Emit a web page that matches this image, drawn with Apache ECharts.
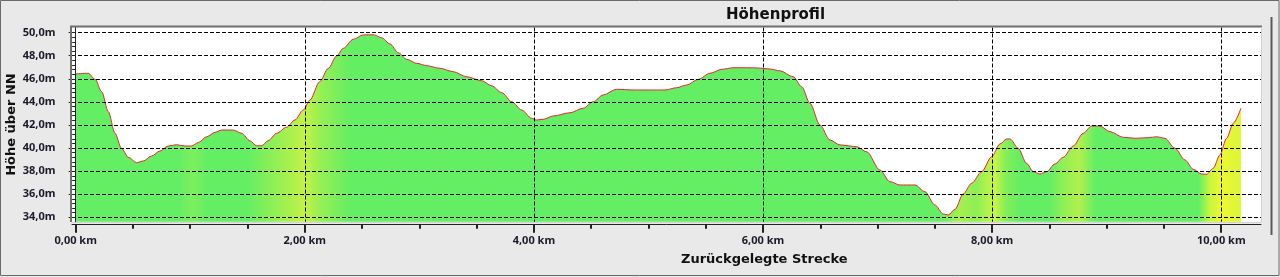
<!DOCTYPE html>
<html><head><meta charset="utf-8">
<script src="https://cdn.jsdelivr.net/npm/echarts@6/dist/echarts.min.js"></script>
<style>html,body{margin:0;padding:0;background:#e9e9e9}#c{width:1280px;height:277px}</style>
</head><body><div id="c"></div>
<script>
// ---- data ----
const distanceKm = [0.00,0.11,0.17,0.227,0.285,0.343,0.40,0.46,0.532,0.59,0.663,0.736,0.81,0.88,0.954,1.01,1.07,1.143,1.216,1.274,1.376,1.45,1.52,1.58,1.624,1.68,1.755,1.84,1.914,1.987,2.045,2.13,2.205,2.278,2.336,2.423,2.51,2.598,2.671,2.744,2.816,2.89,2.977,3.064,3.18,3.296,3.413,3.544,3.63,3.72,3.806,3.893,3.98,4.024,4.08,4.169,4.315,4.43,4.518,4.605,4.72,4.88,5.013,5.144,5.246,5.333,5.435,5.537,5.64,5.74,5.857,5.958,6.06,6.148,6.264,6.337,6.41,6.497,6.584,6.672,6.817,6.905,7.02,7.108,7.195,7.326,7.414,7.50,7.574,7.617,7.675,7.748,7.821,7.908,7.996,8.068,8.127,8.156,8.228,8.30,8.36,8.417,8.476,8.548,8.62,8.708,8.795,8.868,8.94,9.03,9.145,9.247,9.363,9.436,9.508,9.596,9.683,9.756,9.829,9.873,9.93,9.988,10.047,10.105,10.172];
const elevationM = [46.42,46.48,45.96,44.88,43.15,41.28,39.98,39.20,38.73,38.88,39.31,39.75,40.18,40.29,40.18,40.18,40.47,40.98,41.36,41.56,41.56,41.28,40.64,40.20,40.20,40.64,41.28,41.80,42.43,43.30,44.16,45.75,46.90,47.98,48.64,49.42,49.80,49.82,49.56,49.02,48.26,47.69,47.34,47.14,46.91,46.62,46.18,45.84,45.40,44.80,44.02,43.30,42.58,42.43,42.49,42.78,43.06,43.45,44.02,44.60,45.09,45.03,45.03,45.03,45.23,45.46,45.96,46.48,46.82,46.96,46.96,46.94,46.85,46.69,46.18,45.32,43.88,42.00,40.70,40.27,40.12,39.68,38.10,37.09,36.80,36.80,36.22,35.07,34.29,34.20,34.69,36.02,36.95,37.95,39.25,40.35,40.79,40.79,39.98,38.68,37.95,37.75,37.95,38.62,39.20,40.18,41.28,41.91,41.91,41.42,40.93,40.85,40.90,40.98,40.85,39.98,38.97,38.16,37.75,37.73,38.25,39.40,40.85,42.15,43.45];
const xTickValues = [0, 2, 4, 6, 8, 10];
const yTickValues = [34, 36, 38, 40, 42, 44, 46, 48, 50];
const titleText = 'Höhenprofil';
const xAxisName = 'Zurückgelegte Strecke';
const yAxisName = 'Höhe über NN';

// ---- minor tick positions (subdivisions of major ticks) ----
function minorBetween(majors, parts) {
  const out = [];
  for (let i = 0; i < majors.length - 1; i++) {
    const step = (majors[i + 1] - majors[i]) / parts;
    for (let k = 1; k < parts; k++) out.push(+(majors[i] + k * step).toFixed(4));
  }
  return out;
}
const xMinor = minorBetween(xTickValues, 4);
const yMinor = minorBetween(yTickValues, 5);

const seriesData = distanceKm.map((d, i) => [d, elevationM[i]]);
const lastKm = distanceKm[distanceKm.length - 1];

const G = '#64ee64';
const fillStopsKm = [
  [0, G], [0.9, G], [1.02, '#7cf05c'], [1.14, G], [1.5, G], [1.78, '#98f052'], [2.0, '#c2f248'],
  [2.15, '#92f054'], [2.4, G], [7.55, G], [7.72, '#a6f04c'], [7.86, '#8cef55'], [8.02, '#caf545'],
  [8.12, '#82ef58'], [8.25, G], [8.5, G], [8.63, '#92f054'], [8.76, '#b2f04c'], [8.9, G],
  [9.8, G], [9.9, '#c8f540'], [10.0, '#ecf830'], [lastKm, '#dcf53a']
];
const colorStops = fillStopsKm.map(([k, c]) => ({ offset: Math.min(1, k / lastKm), color: c }));

const fontMain = 'DejaVu Sans';
const fontLab = 'Noto Sans';

const chart = echarts.init(document.getElementById('c'), null, { renderer: 'canvas' });
chart.setOption({
  backgroundColor: '#e9e9e9',
  animation: false,
  title: [
    { text: titleText, left: 721, top: 3, textStyle: { fontFamily: fontMain, fontWeight: 'bold', fontSize: 15, color: '#111' } },
    { text: xAxisName, left: 676, top: 248, textStyle: { fontFamily: fontMain, fontWeight: 'bold', fontSize: 13, color: '#111' } }
  ],
  grid: { left: 72, top: 27.5, right: 19, bottom: 55.3, show: true, backgroundColor: '#ffffff', borderWidth: 0,
    containLabel: false, outerBoundsMode: 'none' },
  xAxis: [
    {
      type: 'value', min: -0.032, max: 10.347, offset: 3, z: 5,
      axisLine: { show: true, lineStyle: { color: '#222', width: 1 } },
      axisTick: { show: true, length: 8, customValues: xTickValues, lineStyle: { color: '#222', width: 2 } },
      axisLabel: { customValues: xTickValues, margin: 11, fontFamily: fontLab, fontWeight: 'bold', fontSize: 11, color: '#1a1a2a',
        formatter: v => v.toFixed(2).replace('.', ',') + ' km' },
      splitLine: { show: true, lineStyle: { color: '#000', type: [4, 2], width: 1 } }
    },
    {
      type: 'value', min: -0.032, max: 10.347, offset: 3, position: 'bottom', z: 5,
      axisLine: { show: false },
      axisTick: { show: true, length: 4, customValues: xMinor, lineStyle: { color: '#222', width: 2 } },
      axisLabel: { show: false }, splitLine: { show: false }
    }
  ],
  yAxis: [
    {
      type: 'value', min: 33.619, max: 50.447, offset: 3.5, z: 5,
      name: yAxisName, nameLocation: 'middle', nameGap: 50, nameRotate: 90, nameMoveOverlap: false,
      nameTextStyle: { fontFamily: fontMain, fontWeight: 'bold', fontSize: 13, color: '#111' },
      axisLine: { show: true, lineStyle: { color: '#222', width: 1 } },
      axisTick: { show: true, length: 7, customValues: yTickValues, lineStyle: { color: '#222', width: 1 } },
      axisLabel: { customValues: yTickValues, margin: 13, fontFamily: fontLab, fontWeight: 'bold', fontSize: 11, color: '#1a1a2a',
        formatter: v => v.toFixed(1).replace('.', ',') + 'm' },
      splitLine: { show: true, lineStyle: { color: '#000', type: [4, 2], width: 1 } }
    },
    {
      type: 'value', min: 33.619, max: 50.447, offset: 3.5, position: 'left', z: 5,
      axisLine: { show: false },
      axisTick: { show: true, length: 3.5, customValues: yMinor, lineStyle: { color: '#222', width: 1 } },
      axisLabel: { show: false }, splitLine: { show: false }
    }
  ],
  series: [{
    type: 'line', xAxisIndex: 0, yAxisIndex: 0, data: seriesData,
    showSymbol: false, smooth: 0.3, smoothMonotone: 'x',
    lineStyle: { color: '#ee2233', width: 1 },
    areaStyle: { opacity: 1, color: { type: 'linear', x: 0, y: 0, x2: 1, y2: 0, colorStops } },
    z: 2
  }],
  graphic: [
    { type: 'rect', silent: true, z: 100, shape: { x: 0.5, y: 0.5, width: 1278.5, height: 275 }, style: { fill: null, stroke: '#6a6a6a', lineWidth: 1 } },
    { type: 'line', silent: true, z: 100, shape: { x1: 1271.5, y1: 17, x2: 1271.5, y2: 235 }, style: { stroke: '#5a5a5a', lineWidth: 2 } },
    { type: 'polyline', silent: true, z: 100, shape: { points: [[71, 222], [71, 26.5], [1262, 26.5]] }, style: { fill: null, stroke: '#707070', lineWidth: 2 } },
    { type: 'polyline', silent: true, z: 100, shape: { points: [[72, 222.5], [1261.5, 222.5], [1261.5, 27]] }, style: { fill: null, stroke: '#d2d2d2', lineWidth: 1 } }
  ]
});
</script></body></html>
